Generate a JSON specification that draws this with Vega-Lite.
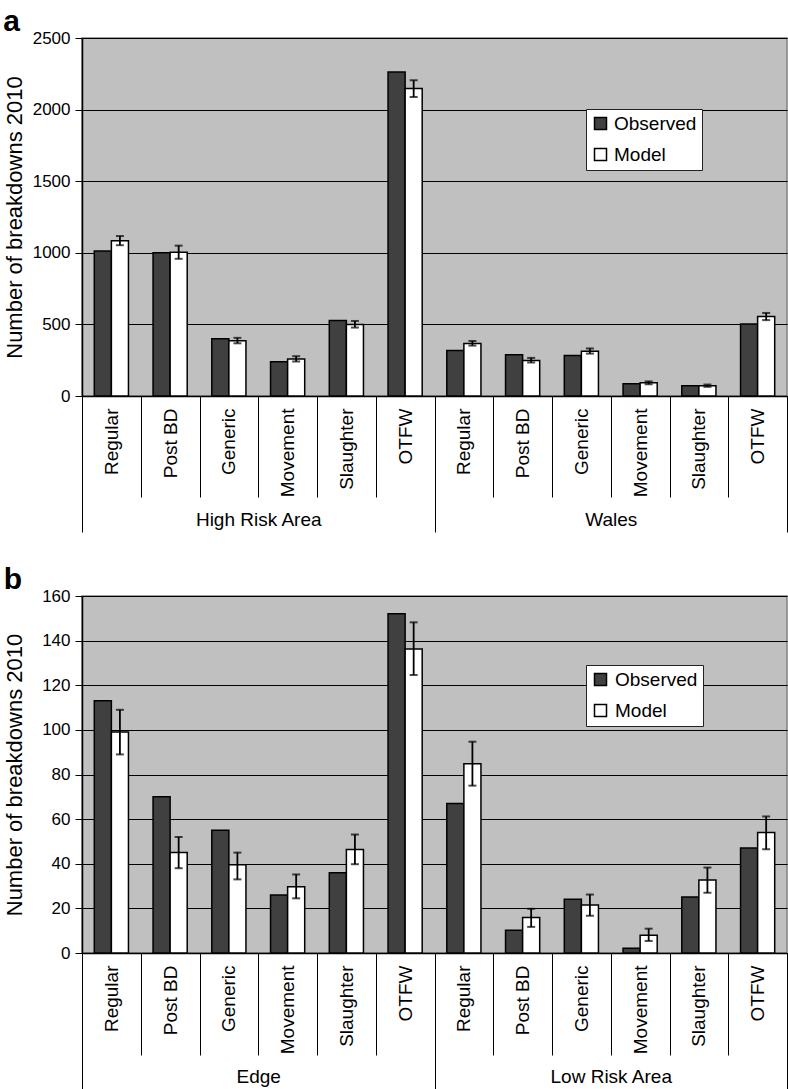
{
  "$schema": "https://vega.github.io/schema/vega-lite/v6.json",
  "padding": {"top": 5, "left": 2, "right": 0, "bottom": 0},
  "background": "white",
  "datasets": {
    "a": [
      {"key": "High Risk Area|Regular", "group": "High Risk Area", "series": "Observed", "value": 1012},
      {"key": "High Risk Area|Regular", "group": "High Risk Area", "series": "Model", "value": 1085, "lo": 1053, "hi": 1117},
      {"key": "High Risk Area|Post BD", "group": "High Risk Area", "series": "Observed", "value": 1000},
      {"key": "High Risk Area|Post BD", "group": "High Risk Area", "series": "Model", "value": 1003, "lo": 958, "hi": 1050},
      {"key": "High Risk Area|Generic", "group": "High Risk Area", "series": "Observed", "value": 400},
      {"key": "High Risk Area|Generic", "group": "High Risk Area", "series": "Model", "value": 386, "lo": 368, "hi": 406},
      {"key": "High Risk Area|Movement", "group": "High Risk Area", "series": "Observed", "value": 240},
      {"key": "High Risk Area|Movement", "group": "High Risk Area", "series": "Model", "value": 258, "lo": 241, "hi": 278},
      {"key": "High Risk Area|Slaughter", "group": "High Risk Area", "series": "Observed", "value": 528},
      {"key": "High Risk Area|Slaughter", "group": "High Risk Area", "series": "Model", "value": 500, "lo": 478, "hi": 524},
      {"key": "High Risk Area|OTFW", "group": "High Risk Area", "series": "Observed", "value": 2262},
      {"key": "High Risk Area|OTFW", "group": "High Risk Area", "series": "Model", "value": 2148, "lo": 2088, "hi": 2205},
      {"key": "Wales|Regular", "group": "Wales", "series": "Observed", "value": 318},
      {"key": "Wales|Regular", "group": "Wales", "series": "Model", "value": 366, "lo": 352, "hi": 384},
      {"key": "Wales|Post BD", "group": "Wales", "series": "Observed", "value": 288},
      {"key": "Wales|Post BD", "group": "Wales", "series": "Model", "value": 248, "lo": 234, "hi": 266},
      {"key": "Wales|Generic", "group": "Wales", "series": "Observed", "value": 283},
      {"key": "Wales|Generic", "group": "Wales", "series": "Model", "value": 312, "lo": 296, "hi": 332},
      {"key": "Wales|Movement", "group": "Wales", "series": "Observed", "value": 86},
      {"key": "Wales|Movement", "group": "Wales", "series": "Model", "value": 92, "lo": 82, "hi": 102},
      {"key": "Wales|Slaughter", "group": "Wales", "series": "Observed", "value": 72},
      {"key": "Wales|Slaughter", "group": "Wales", "series": "Model", "value": 72, "lo": 64, "hi": 80},
      {"key": "Wales|OTFW", "group": "Wales", "series": "Observed", "value": 503},
      {"key": "Wales|OTFW", "group": "Wales", "series": "Model", "value": 556, "lo": 530, "hi": 580}
    ],
    "b": [
      {"key": "Edge|Regular", "group": "Edge", "series": "Observed", "value": 113},
      {"key": "Edge|Regular", "group": "Edge", "series": "Model", "value": 99, "lo": 89, "hi": 109},
      {"key": "Edge|Post BD", "group": "Edge", "series": "Observed", "value": 70},
      {"key": "Edge|Post BD", "group": "Edge", "series": "Model", "value": 45, "lo": 38, "hi": 52},
      {"key": "Edge|Generic", "group": "Edge", "series": "Observed", "value": 55},
      {"key": "Edge|Generic", "group": "Edge", "series": "Model", "value": 39.5, "lo": 33, "hi": 45},
      {"key": "Edge|Movement", "group": "Edge", "series": "Observed", "value": 26},
      {"key": "Edge|Movement", "group": "Edge", "series": "Model", "value": 29.7, "lo": 24.5, "hi": 35.2},
      {"key": "Edge|Slaughter", "group": "Edge", "series": "Observed", "value": 36},
      {"key": "Edge|Slaughter", "group": "Edge", "series": "Model", "value": 46.4, "lo": 39.8, "hi": 53.1},
      {"key": "Edge|OTFW", "group": "Edge", "series": "Observed", "value": 152},
      {"key": "Edge|OTFW", "group": "Edge", "series": "Model", "value": 136.3, "lo": 124.6, "hi": 148.2},
      {"key": "Low Risk Area|Regular", "group": "Low Risk Area", "series": "Observed", "value": 67},
      {"key": "Low Risk Area|Regular", "group": "Low Risk Area", "series": "Model", "value": 84.8, "lo": 75, "hi": 94.7},
      {"key": "Low Risk Area|Post BD", "group": "Low Risk Area", "series": "Observed", "value": 10.2},
      {"key": "Low Risk Area|Post BD", "group": "Low Risk Area", "series": "Model", "value": 15.9, "lo": 11.7, "hi": 19.8},
      {"key": "Low Risk Area|Generic", "group": "Low Risk Area", "series": "Observed", "value": 24.1},
      {"key": "Low Risk Area|Generic", "group": "Low Risk Area", "series": "Model", "value": 21.5, "lo": 16.7, "hi": 26.2},
      {"key": "Low Risk Area|Movement", "group": "Low Risk Area", "series": "Observed", "value": 2.1},
      {"key": "Low Risk Area|Movement", "group": "Low Risk Area", "series": "Model", "value": 7.9, "lo": 5.4, "hi": 10.9},
      {"key": "Low Risk Area|Slaughter", "group": "Low Risk Area", "series": "Observed", "value": 25.1},
      {"key": "Low Risk Area|Slaughter", "group": "Low Risk Area", "series": "Model", "value": 32.7, "lo": 27, "hi": 38.3},
      {"key": "Low Risk Area|OTFW", "group": "Low Risk Area", "series": "Observed", "value": 47.1},
      {"key": "Low Risk Area|OTFW", "group": "Low Risk Area", "series": "Model", "value": 54, "lo": 46.5, "hi": 61.2}
    ]
  },
  "vconcat": [
    {
      "title": {"text": "a", "fontSize": 30, "fontWeight": "bold", "anchor": "start", "frame": "bounds", "offset": -7.5},
      "width": 705,
      "height": 358,
      "data": {"name": "a"},
      "layer": [
        {
          "layer": [
            {
              "mark": {"type": "bar", "stroke": "black", "strokeWidth": 1.5},
              "encoding": {
                "x": {"field": "key", "type": "nominal", "sort": null, "scale": {"paddingInner": 0, "paddingOuter": 0},
                  "axis": {"title": null, "labelExpr": "split(datum.label, '|')[1]", "labelAngle": -90, "labelAlign": "right", "labelBaseline": "middle", "labelFontSize": 19, "tickSize": 101, "labelPadding": -89, "tickBand": "extent", "grid": false, "tickWidth": 1, "domainWidth": 1.5}},
                "xOffset": {"field": "series", "type": "nominal", "scale": {"domain": ["Observed", "Model"], "paddingInner": 0, "paddingOuter": 0.72}},
                "y": {"field": "value", "type": "quantitative", "title": "Number of breakdowns  2010", "scale": {"domain": [0, 2500], "nice": false},
                  "axis": {"values": [0, 500, 1000, 1500, 2000, 2500], "format": "d", "tickSize": 7, "labelFontSize": 17, "labelPadding": 5, "titleFontSize": 22, "titleFontWeight": "normal", "titlePadding": 6, "grid": true, "gridColor": "black", "gridWidth": 1, "domainWidth": 1.5}},
                "color": {"field": "series", "type": "nominal", "scale": {"domain": ["Observed", "Model"], "range": ["#404040", "#ffffff"]},
                  "legend": {"orient": "none", "legendX": 504, "legendY": 71, "title": null, "fillColor": "white", "strokeColor": "#222", "padding": 5, "symbolType": "square", "symbolSize": 144, "symbolStrokeColor": "black", "symbolStrokeWidth": 1.5, "labelFontSize": 19, "rowPadding": 11, "labelOffset": 4}}
              }
            },
            {
              "transform": [{"filter": "datum.series === 'Model'"}],
              "mark": {"type": "rule", "color": "black", "strokeWidth": 1.8},
              "encoding": {
                "x": {"field": "key", "type": "nominal", "sort": null},
                "xOffset": {"field": "series", "type": "nominal"},
                "y": {"field": "lo", "type": "quantitative", "title": "Number of breakdowns  2010"},
                "y2": {"field": "hi"}
              }
            },
            {
              "transform": [{"filter": "datum.series === 'Model'"}],
              "mark": {"type": "tick", "color": "black", "thickness": 2, "size": 8},
              "encoding": {
                "x": {"field": "key", "type": "nominal", "sort": null},
                "xOffset": {"field": "series", "type": "nominal"},
                "y": {"field": "lo", "type": "quantitative", "title": "Number of breakdowns  2010"}
              }
            },
            {
              "transform": [{"filter": "datum.series === 'Model'"}],
              "mark": {"type": "tick", "color": "black", "thickness": 2, "size": 8},
              "encoding": {
                "x": {"field": "key", "type": "nominal", "sort": null},
                "xOffset": {"field": "series", "type": "nominal"},
                "y": {"field": "hi", "type": "quantitative", "title": "Number of breakdowns  2010"}
              }
            }
          ]
        },
        {
          "mark": {"type": "point", "opacity": 0},
          "encoding": {
            "x": {"field": "group", "type": "nominal", "sort": null, "scale": {"paddingInner": 0, "paddingOuter": 0},
              "axis": {"orient": "bottom", "title": null, "labelAngle": 0, "labelFontSize": 19, "labelBaseline": "top", "tickSize": 136, "labelPadding": -22, "tickBand": "extent", "domain": false, "grid": false, "tickWidth": 1}},
            "y": {"field": "value", "type": "quantitative", "title": "Number of breakdowns  2010"}
          }
        }
      ],
      "resolve": {"scale": {"x": "independent"}, "axis": {"x": "independent"}}
    },
    {
      "title": {"text": "b", "fontSize": 30, "fontWeight": "bold", "anchor": "start", "frame": "bounds", "offset": -7.5},
      "width": 705,
      "height": 357,
      "data": {"name": "b"},
      "layer": [
        {
          "layer": [
            {
              "mark": {"type": "bar", "stroke": "black", "strokeWidth": 1.5},
              "encoding": {
                "x": {"field": "key", "type": "nominal", "sort": null, "scale": {"paddingInner": 0, "paddingOuter": 0},
                  "axis": {"title": null, "labelExpr": "split(datum.label, '|')[1]", "labelAngle": -90, "labelAlign": "right", "labelBaseline": "middle", "labelFontSize": 19, "tickSize": 102, "labelPadding": -90, "tickBand": "extent", "grid": false, "tickWidth": 1, "domainWidth": 1.5}},
                "xOffset": {"field": "series", "type": "nominal", "scale": {"domain": ["Observed", "Model"], "paddingInner": 0, "paddingOuter": 0.72}},
                "y": {"field": "value", "type": "quantitative", "title": "Number of breakdowns  2010", "scale": {"domain": [0, 160], "nice": false},
                  "axis": {"values": [0, 20, 40, 60, 80, 100, 120, 140, 160], "format": "d", "tickSize": 7, "labelFontSize": 17, "labelPadding": 5, "titleFontSize": 22, "titleFontWeight": "normal", "titlePadding": 15, "grid": true, "gridColor": "black", "gridWidth": 1, "domainWidth": 1.5}},
                "color": {"field": "series", "type": "nominal", "scale": {"domain": ["Observed", "Model"], "range": ["#404040", "#ffffff"]},
                  "legend": {"orient": "none", "legendX": 504, "legendY": 69, "title": null, "fillColor": "white", "strokeColor": "#222", "padding": 5, "symbolType": "square", "symbolSize": 144, "symbolStrokeColor": "black", "symbolStrokeWidth": 1.5, "labelFontSize": 19, "rowPadding": 11, "labelOffset": 5}}
              }
            },
            {
              "transform": [{"filter": "datum.series === 'Model'"}],
              "mark": {"type": "rule", "color": "black", "strokeWidth": 1.8},
              "encoding": {
                "x": {"field": "key", "type": "nominal", "sort": null},
                "xOffset": {"field": "series", "type": "nominal"},
                "y": {"field": "lo", "type": "quantitative", "title": "Number of breakdowns  2010"},
                "y2": {"field": "hi"}
              }
            },
            {
              "transform": [{"filter": "datum.series === 'Model'"}],
              "mark": {"type": "tick", "color": "black", "thickness": 2, "size": 8},
              "encoding": {
                "x": {"field": "key", "type": "nominal", "sort": null},
                "xOffset": {"field": "series", "type": "nominal"},
                "y": {"field": "lo", "type": "quantitative", "title": "Number of breakdowns  2010"}
              }
            },
            {
              "transform": [{"filter": "datum.series === 'Model'"}],
              "mark": {"type": "tick", "color": "black", "thickness": 2, "size": 8},
              "encoding": {
                "x": {"field": "key", "type": "nominal", "sort": null},
                "xOffset": {"field": "series", "type": "nominal"},
                "y": {"field": "hi", "type": "quantitative", "title": "Number of breakdowns  2010"}
              }
            }
          ]
        },
        {
          "mark": {"type": "point", "opacity": 0},
          "encoding": {
            "x": {"field": "group", "type": "nominal", "sort": null, "scale": {"paddingInner": 0, "paddingOuter": 0},
              "axis": {"orient": "bottom", "title": null, "labelAngle": 0, "labelFontSize": 19, "labelBaseline": "top", "tickSize": 136, "labelPadding": -22, "tickBand": "extent", "domain": false, "grid": false, "tickWidth": 1}},
            "y": {"field": "value", "type": "quantitative", "title": "Number of breakdowns  2010"}
          }
        }
      ],
      "resolve": {"scale": {"x": "independent"}, "axis": {"x": "independent"}}
    }
  ],
  "spacing": 29,
  "resolve": {"scale": {"color": "independent"}, "legend": {"color": "independent"}},
  "config": {
    "font": "Liberation Sans",
    "view": {"fill": "#c0c0c0", "stroke": "#808080", "strokeWidth": 1.5},
    "axis": {"domainColor": "black", "tickColor": "black", "labelColor": "black", "titleColor": "black", "labelFont": "Liberation Sans", "titleFont": "Liberation Sans"},
    "legend": {"labelFont": "Liberation Sans", "labelColor": "black"},
    "title": {"font": "Liberation Sans", "color": "black"}
  }
}
